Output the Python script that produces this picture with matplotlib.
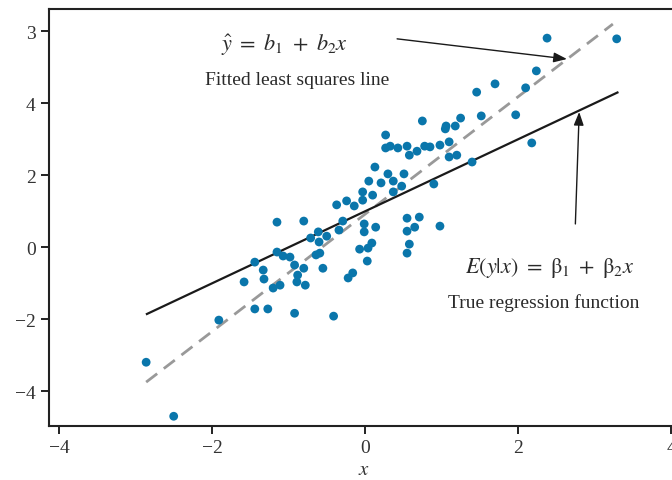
import numpy as np
import matplotlib
matplotlib.use('Agg')
import matplotlib.pyplot as plt

plt.rcParams['font.family'] = ['Liberation Serif', 'DejaVu Serif']
plt.rcParams['mathtext.fontset'] = 'stix'

# scatter points
x_pts = [-2.86, -2.50, -1.91, -1.58, -1.44, -1.33, -1.32, -1.44, -1.27, -1.20,
         -1.11, -1.15, -1.15, -1.07, -0.98, -0.92, -0.88, -0.89, -0.78, -0.80,
         -0.92, -0.80, -0.71, -0.61, -0.60, -0.64, -0.59, -0.55, -0.50, -0.41,
         -0.37, -0.34, -0.29, -0.24, -0.14, -0.22, -0.16, -0.07, 0.03, 0.04,
         0.09, -0.01, -0.01, 0.14, -0.03, -0.03, 0.05, 0.10, 0.13, 0.21,
         0.30, 0.37, 0.37, 0.48, 0.51, 0.27, 0.27, 0.33, 0.43, 0.55,
         0.58, 0.68, 0.78, 0.85, 0.98, 1.10, 1.10, 1.20, 1.40, 0.90,
         0.75, 1.06, 1.05, 1.18, 1.25, 1.46, 1.52, 1.70, 1.97, 2.10,
         2.24, 2.18, 2.38, 3.29, 0.55, 0.71, 0.55, 0.65, 0.98, 0.58, 0.55]
y_pts = [-3.19, -4.69, -2.02, -0.96, -0.41, -0.63, -0.88, -1.71, -1.71, -1.13,
         -1.05, 0.70, -0.13, -0.24, -0.27, -0.49, -0.77, -0.96, -1.05, -0.58,
         -1.83, 0.73, 0.26, 0.43, 0.15, -0.21, -0.16, -0.58, 0.31, -1.91,
         1.18, 0.48, 0.73, 1.29, 1.15, -0.85, -0.71, -0.05, -0.38, -0.02,
         0.12, 0.43, 0.65, 0.56, 1.31, 1.54, 1.84, 1.45, 2.23, 1.79,
         2.04, 1.84, 1.54, 1.70, 2.04, 3.12, 2.76, 2.81, 2.76, 2.81,
         2.56, 2.67, 2.81, 2.79, 2.84, 2.93, 2.51, 2.56, 2.37, 1.76,
         3.51, 3.37, 3.29, 3.37, 3.59, 4.31, 3.65, 4.54, 3.68, 4.43,
         4.90, 2.90, 5.81, 5.79, 0.81, 0.84, 0.45, 0.56, 0.59, 0.09, -0.16]

# lines
b1, b2 = 0.92, 1.63          # fitted least squares
beta1, beta2 = 1.0, 1.0      # true regression
fit_x = [-2.86, 3.24]
true_x = [-2.85, 3.30]

yticks = [-4, -2, 0, 2, 4, 6]
ytick_labels = ['\u22124', '\u22122', '0', '2', '4', '3']
xticks = [-4, -2, 0, 2, 4]
xtick_labels = ['\u22124', '\u22122', '0', '2', '4']

dot_col = '#0a76ab'

fig = plt.figure(figsize=(6.72, 4.81), dpi=100)
ax = fig.add_axes([0.0729, 0.1123, 0.937, 0.867])

fx = np.array(fit_x)
tx = np.array(true_x)
ax.plot(fx, b1 + b2 * fx, color='#999999', lw=2, dashes=(5, 3), zorder=2)
ax.plot(tx, beta1 + beta2 * tx, color='#1a1a1a', lw=1.6, zorder=2)
ax.scatter(x_pts, y_pts, s=40, color=dot_col, edgecolors='none', zorder=3)

ax.set_xlim(-4.13, 4.1)
ax.set_ylim(-4.96, 6.62)
ax.set_xticks(xticks)
ax.set_xticklabels(xtick_labels)
ax.set_yticks(yticks)
ax.set_yticklabels(ytick_labels)
ax.tick_params(direction='out', length=6, width=1.4, labelsize=14,
               colors='#222222', labelcolor='#333333')
for s in ['left', 'bottom', 'top', 'right']:
    ax.spines[s].set_linewidth(1.5)
    ax.spines[s].set_color('#222222')
ax.set_xlabel('$x$', fontsize=15, labelpad=3, color='#333333')

tcol = '#2a2a2a'
ax.text(-1.05, 5.65, r'$\hat{y}\ =\ b_1\ +\ b_2x$', fontsize=16, ha='center',
        va='center', color=tcol)
ax.text(-0.89, 4.67, 'Fitted least squares line', fontsize=14, ha='center',
        va='center', color=tcol)
ax.text(2.41, -0.55,
        r'$E(y|x)\ =\ \mathrm{\beta}_1\ +\ \mathrm{\beta}_2x$',
        fontsize=16, ha='center', va='center', color=tcol)
ax.text(2.33, -1.52, 'True regression function', fontsize=14, ha='center',
        va='center', color=tcol)

arw = dict(arrowstyle='-|>,head_length=0.8,head_width=0.3', color='#1a1a1a',
           lw=1.0, shrinkA=0, shrinkB=0)
ax.annotate('', xy=(2.64, 5.23), xytext=(0.42, 5.79), arrowprops=arw)
ax.annotate('', xy=(2.80, 3.76), xytext=(2.75, 0.65), arrowprops=arw)

fig.savefig('out.png', dpi=100)
